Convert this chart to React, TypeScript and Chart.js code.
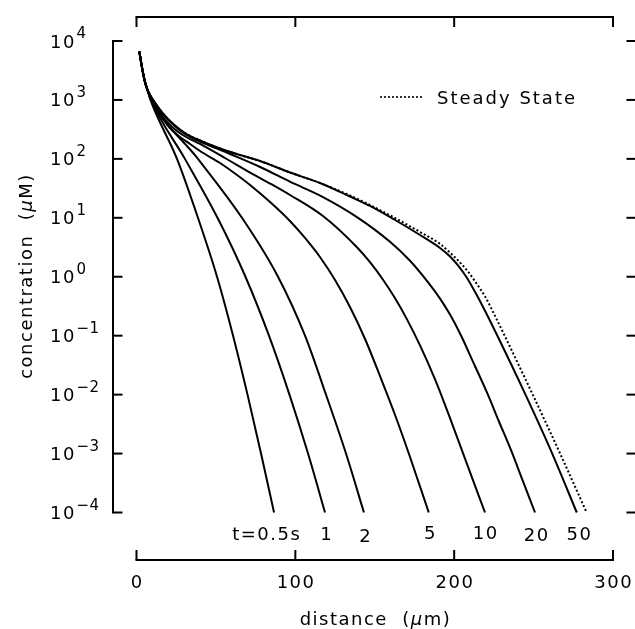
import React, { useEffect, useRef } from "react";
import { Chart, registerables } from "chart.js";

Chart.register(...registerables);

// distance (µm) and concentration (µM)
const t05X = [1.8, 3.2, 5.0, 6.9, 8.8, 25.5, 38.7, 50.7, 60.8, 69.9, 78.4, 86.6];
const t05C = [6600, 3900, 2200, 1480, 1000, 100, 10, 1, 0.1, 0.01, 0.001, 0.0001];

const t1X = [1.8, 3.2, 5.0, 6.9, 9.1, 30.5, 51.0, 68.6, 83.4, 96.3, 108.0, 118.7];
const t1C = [6600, 3900, 2200, 1480, 1000, 100, 10, 1, 0.1, 0.01, 0.001, 0.0001];

const t2X = [1.8, 3.2, 5.0, 6.9, 9.4, 38.7, 66.4, 89.1, 106.1, 119.3, 131.9, 143.2];
const t2C = [6600, 3900, 2200, 1480, 1000, 100, 10, 1, 0.1, 0.01, 0.001, 0.0001];

const t5X = [1.8, 3.2, 5.0, 6.9, 11.7, 15.4, 20.5, 27.4, 33.7, 40.0, 52.6, 62.0, 71.5, 84.1, 96.6, 106.1, 115.5, 125.0, 134.4, 143.9, 153.3, 162.8, 172.2, 184.0];
const t5C = [6600, 3900, 2200, 1480, 820, 534, 347, 235, 179, 136, 85.1, 56.5, 36.1, 18.5, 8.83, 4.55, 2.16, 0.881, 0.307, 0.0879, 0.0207, 0.00451, 0.000875, 0.0001];

const t10X = [1.8, 3.2, 5.0, 6.9, 11.7, 15.4, 21.1, 28.6, 40.0, 55.7, 71.5, 84.1, 96.6, 117.4, 138.8, 147.0, 155.2, 162.8, 170.3, 178.5, 187.9, 197.4, 208.1, 219.4];
const t10C = [6600, 3900, 2200, 1480, 853, 566, 376, 259, 179, 103.5, 58.7, 38.2, 24.4, 10.7, 3.16, 1.763, 0.888, 0.43, 0.189, 0.0684, 0.0183, 0.00399, 0.000664, 0.0001];

const t20X = [1.8, 3.2, 5.0, 6.9, 11.7, 16.1, 22.4, 30.5, 40.0, 58.9, 77.8, 96.6, 117.4, 138.8, 159.6, 172.2, 183.6, 191.1, 197.4, 204.3, 212.5, 220.7, 228.2, 235.8, 243.3, 250.9];
const t20C = [6600, 3900, 2200, 1480, 890, 589, 398, 264, 197, 121, 72.8, 41.0, 22.5, 10.3, 3.92, 1.865, 0.802, 0.426, 0.228, 0.1008, 0.0331, 0.01079, 0.0035, 0.00114, 0.00034, 0.0001];

const t50X = [1.8, 3.2, 5.0, 6.9, 11.7, 16.4, 22.4, 30.5, 40.0, 52.6, 65.2, 77.8, 96.6, 115.5, 134.4, 147.0, 162.8, 178.5, 191.1, 197.4, 202.4, 207.5, 213.1, 219.4, 226.9, 244.6, 261.4, 277.2];
const t50C = [6600, 3900, 2200, 1480, 890, 600, 406, 275, 205, 150, 116, 92, 58.7, 39.0, 23.0, 15.9, 9.18, 5.11, 3.08, 2.21, 1.565, 1.01, 0.556, 0.2645, 0.1035, 0.0104, 0.00105, 0.0001];

const ssX = [1.8, 3.2, 5.0, 6.9, 11.7, 16.4, 22.4, 30.5, 40.0, 52.6, 65.2, 77.8, 96.6, 115.5, 134.4, 147.0, 162.8, 178.5, 191.1, 197.9, 204.2, 209.2, 213.6, 219.4, 225.7, 232.0, 249.0, 266.0, 283.4];
const ssC = [6600, 3900, 2200, 1480, 890, 600, 406, 275, 205, 150, 116, 92, 58.7, 39.0, 23.9, 16.5, 9.9, 5.75, 3.6, 2.49, 1.685, 1.177, 0.802, 0.464, 0.2168, 0.0973, 0.01062, 0.0011, 0.0001];

const curveNames = ["t=0.5s", "1", "2", "5", "10", "20", "50"];
const legendLabel = "Steady State";
const xTickValues = [0, 100, 200, 300];
const yTickExponents = [4, 3, 2, 1, 0, -1, -2, -3, -4];
const xTitleParts = ["distance  (", "\u03bc", "m)"];
const yTitleParts = ["concentration  (", "\u03bc", "M)"];

const FAMILY = '"DejaVu Sans", "Liberation Sans", sans-serif';

const curveXs = [t05X, t1X, t2X, t5X, t10X, t20X, t50X];
const curveCs = [t05C, t1C, t2C, t5C, t10C, t20C, t50C];

function toPoints(xs: number[], cs: number[]) {
  return xs.map((x, i) => ({ x, y: cs[i] }));
}

function setFont(ctx: CanvasRenderingContext2D, size: number, italic = false) {
  ctx.font = `${italic ? "italic " : ""}${size}px ${FAMILY}`;
}

type Part = { t: string; italic?: boolean; size: number };

function partsWidth(ctx: CanvasRenderingContext2D, parts: Part[], ls: number) {
  let w = 0;
  let n = 0;
  for (const p of parts) {
    setFont(ctx, p.size, p.italic);
    for (const ch of Array.from(p.t)) {
      w += ctx.measureText(ch).width;
      n++;
    }
  }
  return w + ls * Math.max(0, n - 1);
}

function drawParts(
  ctx: CanvasRenderingContext2D,
  parts: Part[],
  x: number,
  y: number,
  ls: number,
  align: "left" | "center" | "right" = "left"
) {
  const w = partsWidth(ctx, parts, ls);
  let cx = align === "center" ? x - w / 2 : align === "right" ? x - w : x;
  ctx.textAlign = "left";
  ctx.textBaseline = "alphabetic";
  for (const p of parts) {
    setFont(ctx, p.size, p.italic);
    for (const ch of Array.from(p.t)) {
      ctx.fillText(ch, cx, y);
      cx += ctx.measureText(ch).width + ls;
    }
  }
  return w;
}

function seg(ctx: CanvasRenderingContext2D, x1: number, y1: number, x2: number, y2: number) {
  ctx.beginPath();
  ctx.moveTo(x1, y1);
  ctx.lineTo(x2, y2);
  ctx.stroke();
}

const framePlugin = {
  id: "frame",
  beforeDraw(chart: any) {
    const { ctx, width, height } = chart;
    ctx.save();
    ctx.fillStyle = "#fff";
    ctx.fillRect(0, 0, width, height);
    ctx.restore();
  },
  afterDraw(chart: any) {
    const ctx: CanvasRenderingContext2D = chart.ctx;
    const xs = chart.scales.x;
    const ys = chart.scales.y;
    const a = chart.chartArea;
    ctx.save();
    ctx.strokeStyle = "#000";
    ctx.fillStyle = "#000";
    ctx.lineWidth = 2;
    ctx.lineCap = "butt";
    ctx.setLineDash([]);

    const leftX = a.left - 23.5;
    const rightX = a.right + 23;
    const topY = a.top - 24;
    const botY = a.bottom + 47.5;
    const yTop = ys.getPixelForValue(1e4);
    const yBot = ys.getPixelForValue(1e-4);
    const x0 = xs.getPixelForValue(0);
    const x1 = xs.getPixelForValue(300);

    // vertical axes
    seg(ctx, leftX, yTop - 1, leftX, yBot + 1);
    seg(ctx, rightX, yTop - 1, rightX, yBot + 1);
    for (const e of yTickExponents) {
      const py = ys.getPixelForValue(Math.pow(10, e));
      seg(ctx, leftX, py, leftX + 9.5, py);
      seg(ctx, rightX, py, rightX - 9.5, py);
    }
    // horizontal axes
    seg(ctx, x0 - 1, topY, x1 + 1, topY);
    seg(ctx, x0 - 1, botY, x1 + 1, botY);
    for (const v of xTickValues) {
      const px = xs.getPixelForValue(v);
      seg(ctx, px, topY, px, topY + 10);
      seg(ctx, px, botY, px, botY - 10);
    }

    // y tick labels: 10^e
    for (const e of yTickExponents) {
      const py = ys.getPixelForValue(Math.pow(10, e));
      const w = drawParts(ctx, [{ t: "10", size: 18 }], 50, py + 6.5, 1.5);
      const sup = e < 0 ? "\u2212" + Math.abs(e) : String(e);
      drawParts(ctx, [{ t: sup, size: 15 }], 50 + w + 2, py - 3, 0.5);
    }

    // x tick labels
    for (const v of xTickValues) {
      const px = xs.getPixelForValue(v);
      drawParts(ctx, [{ t: String(v), size: 18 }], px, botY + 27.5, 1.5, "center");
    }

    // axis titles
    drawParts(
      ctx,
      [
        { t: xTitleParts[0], size: 18 },
        { t: xTitleParts[1], size: 18, italic: true },
        { t: xTitleParts[2], size: 18 },
      ],
      (a.left + a.right) / 2,
      625,
      1.5,
      "center"
    );
    ctx.save();
    ctx.translate(32, (a.top + a.bottom) / 2);
    ctx.rotate(-Math.PI / 2);
    drawParts(
      ctx,
      [
        { t: yTitleParts[0], size: 18 },
        { t: yTitleParts[1], size: 18, italic: true },
        { t: yTitleParts[2], size: 18 },
      ],
      0,
      0,
      1.5,
      "center"
    );
    ctx.restore();

    // curve labels under the ends of the curves
    const dx = [-8, 1, 1, 1, 0, 1, 2];
    const dy = [27.5, 27.5, 29, 26.5, 26, 28, 27.5];
    curveNames.forEach((name, i) => {
      const xsArr = curveXs[i];
      const px = xs.getPixelForValue(xsArr[xsArr.length - 1]) + dx[i];
      drawParts(ctx, [{ t: name, size: 18 }], px, a.bottom + dy[i], 1.5, "center");
    });

    // legend
    ctx.lineWidth = 1.6;
    ctx.setLineDash([2, 2]);
    seg(ctx, 380, 97, 424, 97);
    ctx.setLineDash([]);
    drawParts(ctx, [{ t: legendLabel, size: 18 }], 437, 103.5, 2);

    ctx.restore();
  },
};

export default function App() {
  const ref = useRef<HTMLCanvasElement | null>(null);

  useEffect(() => {
    if (!ref.current) return;
    const solid = curveNames.map((name, i) => ({
      label: name,
      data: toPoints(curveXs[i], curveCs[i]),
      borderColor: "#000",
      borderWidth: 2,
      pointRadius: 0,
      fill: false,
      cubicInterpolationMode: "monotone" as const,
      clip: false as any,
    }));
    const steady = {
      label: legendLabel,
      data: toPoints(ssX, ssC),
      borderColor: "#000",
      borderWidth: 2,
      borderDash: [2, 2.2],
      pointRadius: 0,
      fill: false,
      cubicInterpolationMode: "monotone" as const,
      clip: false as any,
    };
    const chart = new Chart(ref.current, {
      type: "line",
      data: { datasets: [...solid, steady] as any },
      options: {
        animation: false,
        responsive: false,
        maintainAspectRatio: false,
        devicePixelRatio: 1,
        layout: { padding: { left: 136.5, right: 22, top: 41, bottom: 116.5 } },
        scales: {
          x: { type: "linear", min: 0, max: 300, display: false },
          y: { type: "logarithmic", min: 1e-4, max: 1e4, display: false },
        },
        plugins: {
          legend: { display: false },
          tooltip: { enabled: false },
        },
        events: [],
      },
      plugins: [framePlugin],
    });
    return () => chart.destroy();
  }, []);

  return (
    <div style={{ position: "fixed", left: 0, top: 0, width: 635, height: 629, background: "#fff" }}>
      <canvas ref={ref} width={635} height={629} style={{ display: "block", width: 635, height: 629 }} />
    </div>
  );
}
